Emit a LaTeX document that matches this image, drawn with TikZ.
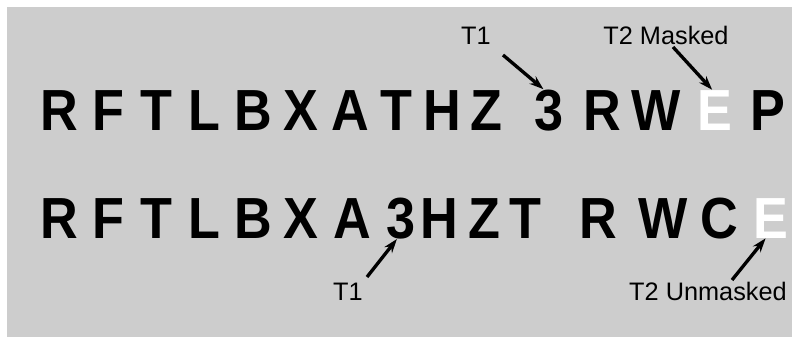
\documentclass[tikz,border=0pt]{standalone}
\usepackage{fontspec}
\setmainfont{Liberation Sans}
\newfontfamily\glyphfont{Liberation Sans}[FakeStretch=0.9]
\usepackage{tikz}
\usetikzlibrary{arrows.meta,positioning}
\definecolor{halftone}{HTML}{CDCDCD}
\definecolor{ink}{HTML}{000000}

\begin{document}
\begin{tikzpicture}[x=0.2mm, y=-0.2mm,
      letter/.style={font=\fontsize{33}{36}\glyphfont\bfseries, inner sep=0pt, anchor=base, text=ink},
      hidden/.style={letter, text=white},
      lbl/.style={font=\fontsize{14.4}{16}\selectfont, inner sep=0pt, anchor=base, text=ink},
      arr/.style={-{Stealth[length=8pt, width=5.5pt]}, line width=1.9pt, ink}
    ]
      \useasboundingbox (0,0) rectangle (799,344);
      \fill[halftone] (7,7) rectangle (792,337);

      % first row, target letter masked
      \foreach \c/\x [count=\i] in {R/59,F/108,T/156,L/204,B/253,X/301,A/350,T/396,H/442,Z/486,3/549,R/602,W/656}
        \node[letter] (top\i) at (\x,130) {\c};
      \node[hidden] (topE) at (715,130) {E};
      \node[letter] (topP) at (768,130) {P};

      % second row, target letter unmasked
      \foreach \c/\x [count=\i] in {R/59,F/108,T/156,L/204,B/253,X/301,A/352,3/401,H/439,Z/484,T/525,R/598,W/663,C/719}
        \node[letter] (bot\i) at (\x,238) {\c};
      \node[hidden] (botE) at (771,238) {E};

      \node[lbl] (topT1) at (476,45) {T1};
      \node[lbl] (topT2) at (666,45) {T2 Masked};
      \node[lbl] (botT1) at (348,300) {T1};
      \node[lbl] (botT2) at (708,300) {T2 Unmasked};

      \coordinate (tailA) at (503,55);
      \coordinate (tailB) at (673,47);
      \coordinate (tailC) at (367,277);
      \coordinate (tailD) at (732,280);

      \draw[arr] (tailA) -- (top11.105);
      \draw[arr] (tailB) -- (topE.98);
      \draw[arr] (tailC) -- (bot8.259);
      \draw[arr] (tailD) -- (botE.255);
    \end{tikzpicture}
\end{document}
